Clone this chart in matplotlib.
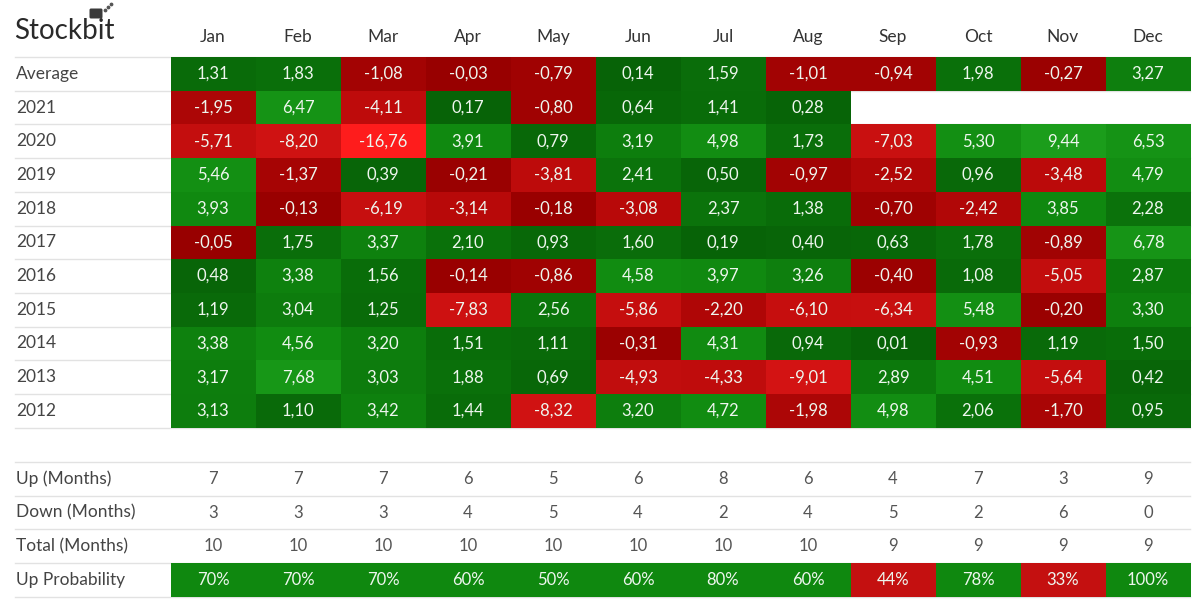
import numpy as np
import matplotlib.pyplot as plt
from matplotlib.colors import LinearSegmentedColormap, Normalize, ListedColormap, BoundaryNorm
from matplotlib.patches import FancyBboxPatch

plt.rcParams['font.family'] = ['Lato', 'DejaVu Sans']

months = ['Jan', 'Feb', 'Mar', 'Apr', 'May', 'Jun', 'Jul', 'Aug', 'Sep', 'Oct', 'Nov', 'Dec']
row_labels = ['Average', '2021', '2020', '2019', '2018', '2017', '2016', '2015', '2014', '2013', '2012']

avg = [1.31, 1.83, -1.08, -0.03, -0.79, 0.14, 1.59, -1.01, -0.94, 1.98, -0.27, 3.27]
y2021 = [-1.95, 6.47, -4.11, 0.17, -0.80, 0.64, 1.41, 0.28, np.nan, np.nan, np.nan, np.nan]
y2020 = [-5.71, -8.20, -16.76, 3.91, 0.79, 3.19, 4.98, 1.73, -7.03, 5.30, 9.44, 6.53]
y2019 = [5.46, -1.37, 0.39, -0.21, -3.81, 2.41, 0.50, -0.97, -2.52, 0.96, -3.48, 4.79]
y2018 = [3.93, -0.13, -6.19, -3.14, -0.18, -3.08, 2.37, 1.38, -0.70, -2.42, 3.85, 2.28]
y2017 = [-0.05, 1.75, 3.37, 2.10, 0.93, 1.60, 0.19, 0.40, 0.63, 1.78, -0.89, 6.78]
y2016 = [0.48, 3.38, 1.56, -0.14, -0.86, 4.58, 3.97, 3.26, -0.40, 1.08, -5.05, 2.87]
y2015 = [1.19, 3.04, 1.25, -7.83, 2.56, -5.86, -2.20, -6.10, -6.34, 5.48, -0.20, 3.30]
y2014 = [3.38, 4.56, 3.20, 1.51, 1.11, -0.31, 4.31, 0.94, 0.01, -0.93, 1.19, 1.50]
y2013 = [3.17, 7.68, 3.03, 1.88, 0.69, -4.93, -4.33, -9.01, 2.89, 4.51, -5.64, 0.42]
y2012 = [3.13, 1.10, 3.42, 1.44, -8.32, 3.20, 4.72, -1.98, 4.98, 2.06, -1.70, 0.95]

stat_labels = ['Up (Months)', 'Down (Months)', 'Total (Months)', 'Up Probability']
up_months = [7, 7, 7, 6, 5, 6, 8, 6, 4, 7, 3, 9]
down_months = [3, 3, 3, 4, 5, 4, 2, 4, 5, 2, 6, 0]
total_months = [10, 10, 10, 10, 10, 10, 10, 10, 9, 9, 9, 9]
up_prob = [70, 70, 70, 60, 50, 60, 80, 60, 44, 78, 33, 100]

vals = np.array([avg, y2021, y2020, y2019, y2018, y2017, y2016,
                 y2015, y2014, y2013, y2012], dtype=float)

pos_cmap = LinearSegmentedColormap.from_list(
    'pos', [(0, '#076207'), (0.25, '#0b740b'), (0.4, '#108a10'), (1, '#1c9f1c')])
neg_cmap = LinearSegmentedColormap.from_list(
    'neg', [(0, '#ff1c1c'), (0.55, '#cc1111'), (0.8, '#bb0a0a'), (1, '#980000')])

fig = plt.figure(figsize=(12, 6.04), dpi=100)
ax = fig.add_axes([0, 0, 1, 1])
ax.set_xlim(0, 1200)
ax.set_ylim(604, 0)
ax.axis('off')

x0, cw = 170.5, 85
top, rh = 57, 33.7
x_edges = x0 + cw * np.arange(13)
y_edges = top + rh * np.arange(len(row_labels) + 1)
xc = x_edges[:-1] + cw / 2

line_c = '#e2e2e2'
for y in y_edges:
    ax.plot([15, 1190], [y, y], color=line_c, lw=1, zorder=0)

pos = np.ma.masked_where(~(vals >= 0), vals)
neg = np.ma.masked_where(~(vals < 0), vals)
ax.pcolormesh(x_edges, y_edges, pos, cmap=pos_cmap, norm=Normalize(0, 10), zorder=1)
ax.pcolormesh(x_edges, y_edges, neg, cmap=neg_cmap, norm=Normalize(-17, 0), zorder=1)

for i, lab in enumerate(row_labels):
    yc = top + rh * (i + 0.5)
    ax.text(16, yc, lab, ha='left', va='center', fontsize=12.5, color='#444444')
    for j in range(12):
        v = vals[i, j]
        if np.isnan(v):
            continue
        ax.text(xc[j], yc, f'{v:.2f}'.replace('.', ','), ha='center', va='center',
                fontsize=12, color='#eef6ee', zorder=3)

for j, m in enumerate(months):
    ax.text(xc[j], 37, m, ha='center', va='center', fontsize=12.5, color='#333333')

# stats block
stop = 462
s_edges = stop + rh * np.arange(len(stat_labels) + 1)
for y in s_edges:
    ax.plot([15, 1190], [y, y], color=line_c, lw=1, zorder=0)

prob_cmap = ListedColormap(['#c41010', '#0f880f'])
ax.pcolormesh(x_edges, s_edges[3:5], np.array([up_prob]), cmap=prob_cmap,
              norm=BoundaryNorm([0, 50, 101], 2), zorder=1)

for i, (lab, row) in enumerate(zip(stat_labels, [up_months, down_months, total_months, up_prob])):
    yc = stop + rh * (i + 0.5)
    ax.text(16, yc, lab, ha='left', va='center', fontsize=12.5, color='#444444')
    for j, v in enumerate(row):
        if i == 3:
            ax.text(xc[j], yc, f'{v}%', ha='center', va='center', fontsize=12,
                    color='#eef6ee', zorder=3)
        else:
            ax.text(xc[j], yc, str(v), ha='center', va='center', fontsize=12,
                    color='#555555', zorder=3)

# logo
ax.text(14, 31, 'Stockbit', ha='left', va='center', fontsize=20, color='#2a2a2a')
ax.add_patch(FancyBboxPatch((90, 9), 12, 9, boxstyle='round,pad=0.5,rounding_size=1.5',
                            fc='#3a3a3a', ec='none'))
ax.scatter([105, 108, 111], [10, 7, 4], s=3, color='#555555')

fig.savefig('out.png', dpi=100)
